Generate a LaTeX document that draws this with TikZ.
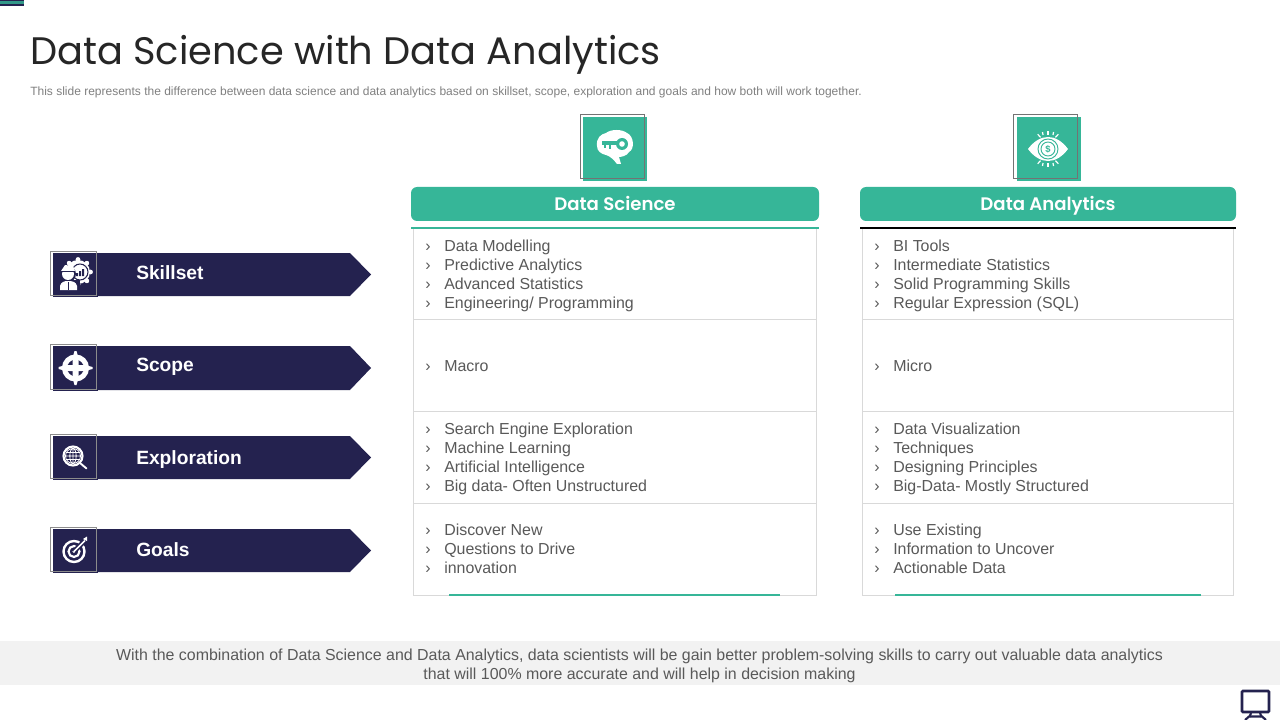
\documentclass[tikz,border=0pt]{standalone}
\usepackage{fontspec}
\setmainfont{Liberation Sans}
\newfontfamily\geo{Poppins}
\newfontfamily\geob{Poppins SemiBold}
\usetikzlibrary{shapes.geometric,calc}
\definecolor{teal1}{HTML}{36B698}
\definecolor{navy1}{HTML}{24224F}
\definecolor{txt1}{HTML}{595959}
\definecolor{line1}{HTML}{D9D9D9}
\definecolor{band1}{HTML}{F2F2F2}
\newcommand{\bul}{\makebox[14.25pt][l]{›}}
\tikzset{
  x=0.75pt,y=-0.75pt,
  cell/.style={anchor=west,inner sep=0pt,align=left,text=txt1,font=\fontsize{11.95}{14.25}\selectfont},
  head/.style={rounded corners=4.5pt,fill=teal1,text=white,inner sep=0pt,text height=11.5pt,text depth=1.5pt,font=\geob\fontsize{13.6}{16}\selectfont},
  rowlabel/.style={anchor=base west,inner sep=0pt,text=white,font=\fontsize{14.4}{17}\bfseries\selectfont},
  rowbar/.style={fill=navy1,draw=none},
}
\begin{document}
\begin{tikzpicture}
\useasboundingbox (0,0) rectangle (1280,720);
\fill[white] (0,0) rectangle (1280,720);
% corner mark
\fill[navy1] (0,0) rectangle (24,6);
\fill[teal1!80!navy1] (0,1.5) rectangle (24,3.6);
% title
\node[anchor=base west,inner sep=0pt,text=black!85,font=\geo\fontsize{28.75}{32}\selectfont] (title) at (30,65) {Data Science with Data Analytics};
\node[anchor=base west,inner sep=0pt,text=black!50,font=\fontsize{9}{11}\selectfont] (sub) at (30,96) {This slide represents the difference between data science and data analytics based on skillset, scope, exploration and goals and how both will work together.};
% top icons
\fill[teal1] (583,117) rectangle (647,181);
\draw[black!55,line width=0.6pt] (580,114) rectangle (644,178);
\fill[teal1] (1017,117) rectangle (1081,181);
\draw[black!55,line width=0.6pt] (1013,114) rectangle (1077,178);
% brain key icon
\fill[white] (597,146) .. controls (596,138) and (601,134) .. (606,133)
  .. controls (611,129) and (622,129) .. (627,133) .. controls (634,136) and (635,149) .. (629,152)
  .. controls (627,156) and (621,157) .. (619,157) -- (621,164) -- (617,164) .. controls (614,160) and (610,156) .. (606,155) .. controls (601,154) and (597,151) .. (597,146) -- cycle;
\fill[teal1] (602,141.5) rectangle (618,145);
\fill[teal1] (604,145) rectangle (606,148.5);
\fill[teal1] (608.5,145) rectangle (610.5,149.5);
\fill[teal1] (622,144) circle (6);
\fill[white] (622,144) circle (2.8);
% eye icon
\fill[white] (1028,149) .. controls (1040,133) and (1056,133) .. (1068,149) .. controls (1056,165) and (1040,165) .. (1028,149) -- cycle;
\draw[teal1,line width=0.7pt] (1048,149) circle (10);
\draw[teal1,line width=0.7pt] (1048,149) circle (7);
\node[inner sep=0pt,text=teal1,font=\fontsize{7}{8}\bfseries\selectfont] (eyed) at (1048,149) {\$};
\foreach \a in {-125,-90,-55} {
  \draw[white,line width=0.9pt] ($(1048,149)+(\a:13)+(0,-1)$) -- ($(1048,149)+(\a:18)$);
  \draw[white,line width=0.9pt] ($(1048,149)+(-\a:13)+(0,1)$) -- ($(1048,149)+(-\a:18)$);
}
\draw[white,line width=0.9pt] (1042.5,132) -- (1043,135) (1053.5,132) -- (1053,135) (1042.5,166) -- (1043,163) (1053.5,166) -- (1053,163);
% headers
\node[head,minimum width=306pt,minimum height=25.5pt] (hds) at (615,204) {Data Science};
\node[head,minimum width=282pt,minimum height=25.5pt] (hda) at (1048,204) {Data Analytics};
% tables
\draw[line1,line width=0.75pt] (413.5,228) rectangle (816,595);
\draw[line1,line width=0.75pt] (413.5,319.7) -- (816,319.7) (413.5,411.7) -- (816,411.7) (413.5,503.3) -- (816,503.3);
\draw[line1,line width=0.75pt] (862.5,228) rectangle (1233,595);
\draw[line1,line width=0.75pt] (862.5,319.7) -- (1233,319.7) (862.5,411.7) -- (1233,411.7) (862.5,503.3) -- (1233,503.3);
\draw[teal1,line width=0.9pt] (411,228) -- (819,228);
\draw[black,line width=0.9pt] (860,228) -- (1236,228);
\draw[teal1,line width=1.5pt] (449,594.5) -- (780,594.5);
\draw[teal1,line width=1.5pt] (895,594.5) -- (1201,594.5);
% cells
\node[cell] (s1) at (425,275.5) {\bul Data Modelling\\\bul Predictive Analytics\\\bul Advanced Statistics\\\bul Engineering/ Programming};
\node[cell] (s2) at (425,366.5) {\bul Macro};
\node[cell] (s3) at (425,458.5) {\bul Search Engine Exploration\\\bul Machine Learning\\\bul Artificial Intelligence\\\bul Big data- Often Unstructured};
\node[cell] (s4) at (425,549) {\bul Discover New\\\bul Questions to Drive\\\bul innovation};
\node[cell] (a1) at (874,275.5) {\bul BI Tools\\\bul Intermediate Statistics\\\bul Solid Programming Skills\\\bul Regular Expression (SQL)};
\node[cell] (a2) at (874,366) {\bul Micro};
\node[cell] (a3) at (874,458.5) {\bul Data Visualization\\\bul Techniques\\\bul Designing Principles\\\bul Big-Data- Mostly Structured};
\node[cell] (a4) at (874,549) {\bul Use Existing\\\bul Information to Uncover\\\bul Actionable Data};
% left bars
\foreach \t/\b in {253/296,346/390,436/479,529/572} {
  \fill[rowbar] (97,\t) -- (350,\t) -- (371,{(\t+\b)/2}) -- (350,\b) -- (97,\b) -- cycle;
  \fill[navy1] (53,\t) rectangle (97.5,\b+0.5);
  \draw[black!45,line width=0.6pt] (50.5,\t-1.5) rectangle (96.5,\b-0.5);
}
\node[rowlabel] (l1) at (136,279) {Skillset};
\node[rowlabel] (l2) at (136,371) {Scope};
\node[rowlabel] (l3) at (136,464) {Exploration};
\node[rowlabel] (l4) at (136,556) {Goals};
% skillset icon
\fill[white] (78,272) circle (12);
\foreach \a in {0,45,...,315} \fill[white] ($(78,272)+(\a:12.5)$) circle (2.4);
\draw[navy1,line width=0.8pt] (80,272) circle (8);
\fill[navy1] (76,276) rectangle (78,273) (79,276) rectangle (81,271) (82,276) rectangle (84,269);
\fill[navy1] (68,274) circle (8);
\fill[white] (68,274) circle (6);
\fill[white] (61,271) -- (65,265) -- (73,266) -- (75,271) -- cycle;
\fill[navy1] (61,272) -- (75,272) -- (75,271) -- (61,271) -- cycle;
\fill[navy1] (58,291) rectangle (80,280);
\fill[white] (60,290) -- (60,286) .. controls (61,282) and (64,281) .. (68,281) .. controls (73,281) and (76,282) .. (77,286) -- (77,290) -- cycle;
\fill[navy1] (67.5,282) rectangle (69,290);
% scope icon
\draw[white,line width=3.8pt] (75.5,368) circle (11);
\fill[white] (58.5,367) -- (66,365) -- (85,365) -- (92.5,367) -- (92.5,369) -- (85,371) -- (66,371) -- (58.5,369) -- cycle;
\fill[white] (74.5,351) -- (72.5,358) -- (72.5,378) -- (74.5,385) -- (76.5,385) -- (78.5,378) -- (78.5,358) -- (76.5,351) -- cycle;
% exploration icon
\draw[white,line width=1.6pt] (73,456) circle (9.5);
\draw[white,line width=0.6pt] (73,456) circle (7.5) (73,456) ellipse (3.2 and 7.5) (65.5,456) -- (80.5,456) (66.5,452.5) -- (79.5,452.5) (66.5,459.5) -- (79.5,459.5) (73,448.5) -- (73,463.5);
\draw[white,line width=1.4pt,line cap=round] (80,463) -- (86.5,468.5);
% goals icon
\draw[white,line width=1.8pt] (74,551.5) circle (10.5);
\draw[white,line width=1.6pt] (74,551.5) circle (5.5);
\fill[white] (74,551.5) circle (1.6);
\draw[navy1,line width=3.5pt] (74,551.5) -- (86,539.5);
\draw[white,line width=1.2pt] (74,551.5) -- (85,540.5);
\fill[white] (83,539) -- (87,536.5) -- (87,541) -- cycle;
% footer
\fill[band1] (0,641) rectangle (1280,685);
\node[inner sep=0pt,align=center,text=txt1,font=\fontsize{11.95}{14.25}\selectfont] (foot) at (639.5,665.5) {With the combination of Data Science and Data Analytics, data scientists will be gain better problem-solving skills to carry out valuable data analytics\\that will 100\% more accurate and will help in decision making};
% monitor
\draw[navy1,line width=2pt,rounded corners=0.8pt] (1242,691) rectangle (1269,712);
\draw[navy1,line width=1.6pt] (1251,713) -- (1249.5,717) (1260,713) -- (1261.5,717);
\draw[navy1,line width=1.6pt] (1245,720) -- (1249,716.5) -- (1262,716.5) -- (1266,720);
\end{tikzpicture}
\end{document}
